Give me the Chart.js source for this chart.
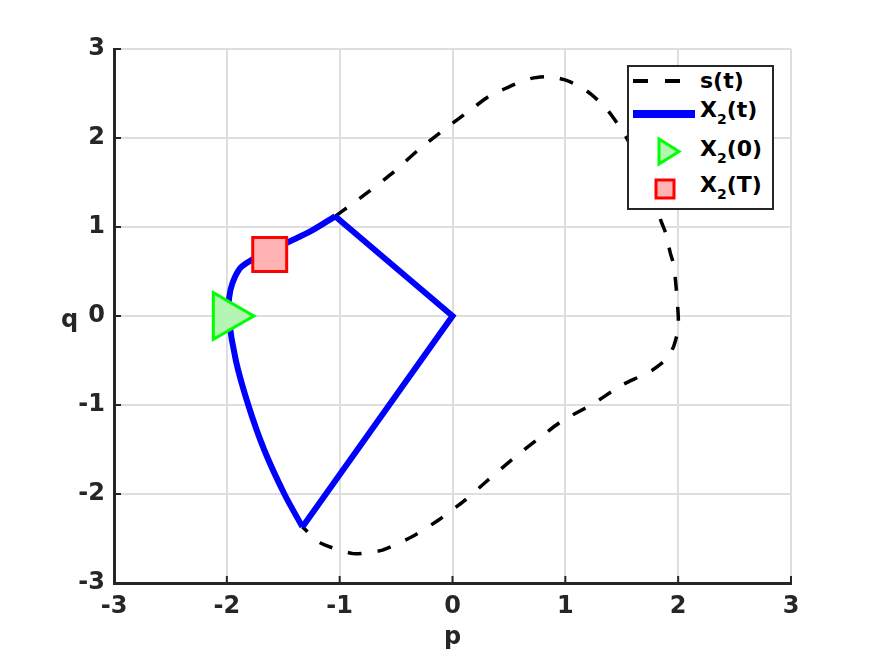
<!DOCTYPE html>
<html>
<head>
<meta charset="utf-8">
<script src="https://cdn.jsdelivr.net/npm/chart.js@4.4.1/dist/chart.umd.min.js"></script>
<style>
  body { margin: 0; background: #fff; }
  #wrap { position: relative; width: 874px; height: 656px; font-family: 'DejaVu Sans', sans-serif; font-weight: bold; color: #262626; }
  #chart { position: absolute; left: 0; top: 0; }
  #qlabel { position: absolute; left: 61px; top: 307px; font-size: 24px; line-height: 1; }
  #legend { position: absolute; left: 627px; top: 65px; width: 147px; height: 145px; box-sizing: border-box;
            border: 2px solid #262626; background: #fff; }
  #legend .txt { position: absolute; left: 71px; font-size: 22px; line-height: 1; color: #000; white-space: nowrap; }
  #legend sub { font-size: 14px; vertical-align: -7px; line-height: 0; }
  #legend svg { position: absolute; left: 0; top: 0; }
</style>
</head>
<body>
<div id="wrap">
  <canvas id="chart" width="874" height="656"></canvas>
  <div id="qlabel">q</div>
  <div id="legend">
    <svg width="143" height="141">
      <line x1="4" y1="14" x2="66" y2="14" stroke="#000" stroke-width="4" stroke-dasharray="15 17"/>
      <line x1="4" y1="47" x2="66" y2="47" stroke="#0000ff" stroke-width="8"/>
      <polygon points="30,72 50,84.5 30,97" fill="#b3f5b3" stroke="#00ff00" stroke-width="3"/>
      <rect x="27" y="113" width="18" height="18" fill="#ffb3b3" stroke="#ff0000" stroke-width="3"/>
    </svg>
    <div class="txt" style="top:3px">s(t)</div>
    <div class="txt" style="top:32px">X<sub>2</sub>(t)</div>
    <div class="txt" style="top:71px">X<sub>2</sub>(0)</div>
    <div class="txt" style="top:107px">X<sub>2</sub>(T)</div>
  </div>
</div>
<script>
// s(t) - dashed curve (visible part)
const sP = [-1.04, -0.92, -0.74, -0.52, -0.30, -0.11, 0.10, 0.20, 0.33, 0.44, 0.58, 0.70, 0.86, 0.99, 1.13, 1.23,
            1.35, 1.43, 1.53, 1.65, 1.76, 1.85, 1.89, 1.93, 1.96, 1.98, 2.00, 2.00, 1.96, 1.90, 1.77, 1.66,
            1.51, 1.41, 1.23, 0.98, 0.75, 0.53, 0.30, 0.10, -0.12, -0.36, -0.62, -0.88, -1.17, -1.33];
const sQ = [1.12, 1.23, 1.40, 1.62, 1.87, 2.06, 2.26, 2.355, 2.475, 2.54, 2.62, 2.67, 2.69, 2.655, 2.58, 2.49,
            2.35, 2.22, 2.03, 1.75, 1.40, 1.06, 0.93, 0.71, 0.58, 0.35, 0.02, -0.15, -0.34, -0.48, -0.61, -0.68,
            -0.77, -0.85, -1.00, -1.17, -1.39, -1.61, -1.86, -2.08, -2.29, -2.48, -2.63, -2.67, -2.55, -2.37];

// X2(t) - curved part on the left
const arcP = [-1.33, -1.49, -1.67, -1.81, -1.92, -1.985, -1.98, -1.95, -1.88, -1.78, -1.62, -1.44, -1.26, -1.04];
const arcQ = [-2.37, -2.00, -1.50, -1.00, -0.50, 0.00, 0.20, 0.37, 0.54, 0.63, 0.73, 0.84, 0.95, 1.12];

// X2(t) - straight part
const lineP = [-1.04, 0.00, -1.33];
const lineQ = [1.12, 0.00, -2.37];

// markers
const startPoint = { x: -2.0, y: 0.0 };
const endPoint = { x: -1.62, y: 0.69 };

const ticks = [-3, -2, -1, 0, 1, 2, 3];

function toXY(px, qy) {
    return px.map((v, i) => ({ x: v, y: qy[i] }));
}

const tickFont = { family: 'DejaVu Sans', size: 24, weight: 'bold' };

// inward tick marks like the original
const innerTicks = {
    id: 'innerTicks',
    afterDraw(chart) {
        const ctx = chart.ctx;
        const a = chart.chartArea;
        const xs = chart.scales.x, ys = chart.scales.y;
        ctx.save();
        ctx.strokeStyle = '#262626';
        ctx.lineWidth = 2;
        ctx.beginPath();
        for (const t of ticks) {
            const x = xs.getPixelForValue(t);
            ctx.moveTo(x, a.bottom);
            ctx.lineTo(x, a.bottom - 7);
            const y = ys.getPixelForValue(t);
            ctx.moveTo(a.left, y);
            ctx.lineTo(a.left + 7, y);
        }
        ctx.stroke();
        ctx.restore();
    }
};

new Chart(document.getElementById('chart').getContext('2d'), {
    type: 'scatter',
    data: {
        datasets: [
            {
                label: 'X2(0)',
                data: [startPoint],
                pointStyle: 'triangle',
                pointRotation: 90,
                pointRadius: 27,
                pointBorderWidth: 3,
                pointBorderColor: '#00ff00',
                pointBackgroundColor: '#b3f5b3',
                order: 1
            },
            {
                label: 'X2(T)',
                data: [endPoint],
                pointStyle: 'rect',
                pointRadius: 24,
                pointBorderWidth: 3,
                pointBorderColor: '#ff0000',
                pointBackgroundColor: '#ffb3b3',
                order: 1
            },
            {
                label: 'X2(t)',
                data: toXY(arcP, arcQ),
                showLine: true,
                borderColor: '#0000ff',
                borderWidth: 6,
                pointRadius: 0,
                tension: 0.3,
                order: 2
            },
            {
                label: 'X2(t) line',
                data: toXY(lineP, lineQ),
                showLine: true,
                borderColor: '#0000ff',
                borderWidth: 6,
                pointRadius: 0,
                tension: 0,
                order: 2
            },
            {
                label: 's(t)',
                data: toXY(sP, sQ),
                showLine: true,
                borderColor: '#000000',
                borderWidth: 3.5,
                borderDash: [14, 16],
                pointRadius: 0,
                tension: 0.2,
                order: 3
            }
        ]
    },
    options: {
        responsive: false,
        animation: false,
        events: [],
        layout: { padding: { top: 49, right: 83, left: 0, bottom: 0 } },
        plugins: {
            legend: { display: false },
            tooltip: { enabled: false }
        },
        scales: {
            x: {
                type: 'linear',
                min: -3, max: 3,
                afterFit(s) { s.height = 73; },
                afterBuildTicks(s) { s.ticks = ticks.map(v => ({ value: v })); },
                ticks: { font: tickFont, color: '#262626', padding: 9 },
                grid: { color: '#dedede', lineWidth: 2, drawTicks: false },
                border: { display: true, color: '#262626', width: 3 },
                title: { display: true, text: 'p', font: tickFont, color: '#262626', padding: { top: 0 } }
            },
            y: {
                type: 'linear',
                min: -3, max: 3,
                afterFit(s) { s.width = 114; },
                afterBuildTicks(s) { s.ticks = ticks.map(v => ({ value: v })); },
                ticks: { font: tickFont, color: '#262626', padding: 9 },
                grid: { color: '#dedede', lineWidth: 2, drawTicks: false },
                border: { display: true, color: '#262626', width: 3 }
            }
        }
    },
    plugins: [innerTicks]
});
</script>
</body>
</html>
